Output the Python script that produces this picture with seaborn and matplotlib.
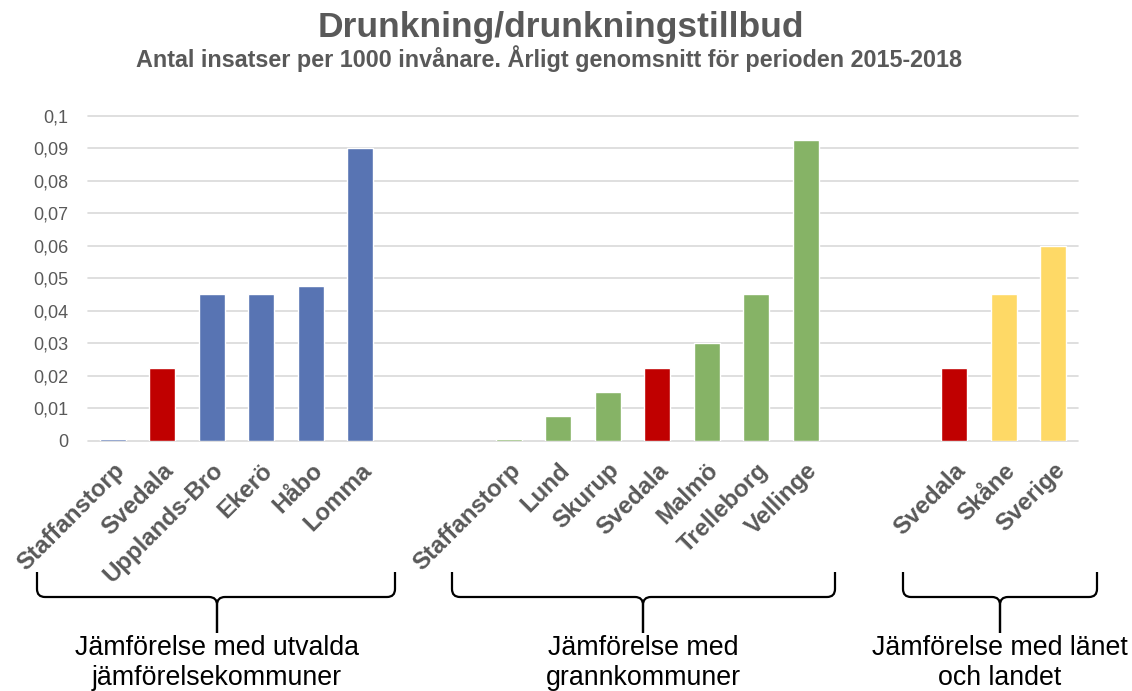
import numpy as np
import pandas as pd
import matplotlib
matplotlib.use("Agg")
import matplotlib.pyplot as plt
from matplotlib.path import Path
from matplotlib.patches import PathPatch
from matplotlib.transforms import ScaledTranslation
import seaborn as sns

# data
group1_labels = ["Staffanstorp", "Svedala", "Upplands-Bro", "Ekerö", "Håbo", "Lomma"]
group1_values = [0.0006, 0.0225, 0.045, 0.045, 0.0475, 0.09]
group2_labels = ["Staffanstorp", "Lund", "Skurup", "Svedala", "Malmö", "Trelleborg", "Vellinge"]
group2_values = [0.0006, 0.0075, 0.015, 0.0225, 0.03, 0.045, 0.0925]
group3_labels = ["Svedala", "Skåne", "Sverige"]
group3_values = [0.0225, 0.045, 0.06]
group_names = ["utvalda", "grann", "land"]
group_texts = [("Jämförelse med utvalda", "jämförelsekommuner"),
               ("Jämförelse med", "grannkommuner"),
               ("Jämförelse med länet", "och landet")]
yticks = [0, 0.01, 0.02, 0.03, 0.04, 0.05, 0.06, 0.07, 0.08, 0.09, 0.1]

palette = {"utvalda": "#5874B3", "grann": "#86B366", "land": "#FED966", "Svedala": "#C00000"}
GREY = "#595959"

sns.set_theme(style="white")
plt.rcParams["font.family"] = ["Liberation Sans", "DejaVu Sans"]

# build table, two empty slots between groups
rows = []
start = 0
for name, labels, values in zip(group_names,
                                [group1_labels, group2_labels, group3_labels],
                                [group1_values, group2_values, group3_values]):
    for i, (lab, val) in enumerate(zip(labels, values)):
        grp = "Svedala" if lab == "Svedala" else name
        rows.append({"pos": start + i, "label": lab, "value": val, "grp": grp})
    start += len(labels) + 2
df = pd.DataFrame(rows)

W, H = 1132, 691
fig = plt.figure(figsize=(W / 100, H / 100), dpi=100)
ax = fig.add_axes([88 / W, 1 - 440.7 / H, 990 / W, 325 / H])

sns.barplot(data=df, x="pos", y="value", hue="grp", palette=palette,
            native_scale=True, dodge=False, width=0.53, saturation=1,
            legend=False, ax=ax, zorder=3)

ax.set_xlim(-0.5, df["pos"].max() + 0.5)
ax.set_ylim(0, 0.1)
ax.set_yticks(yticks)
ax.set_yticklabels([("%g" % v).replace(".", ",") for v in yticks],
                   fontsize=13, color=GREY)
ax.set_xticks(df["pos"])
ax.set_xticklabels(df["label"], rotation=45, ha="right", va="top",
                   rotation_mode="anchor", fontsize=17.3, fontweight="bold", color=GREY)
off = ScaledTranslation(4 / 72, 0, fig.dpi_scale_trans)
for lab in ax.get_xticklabels():
    lab.set_transform(lab.get_transform() + off)
ax.tick_params(axis="x", length=0, pad=13)
ax.tick_params(axis="y", length=0, pad=14)
ax.set_xlabel("")
ax.set_ylabel("")
for s in ax.spines.values():
    s.set_visible(False)
ax.yaxis.grid(True, color="#D9D9D9", linewidth=1.2, zorder=0)
ax.set_axisbelow(True)
for gl in ax.get_ygridlines():
    gl.set_clip_on(False)

fig.text(561 / W, 1 - 28 / H, "Drunkning/drunkningstillbud", ha="center", va="center",
         fontsize=25.5, fontweight="bold", color=GREY)
fig.text(549 / W, 1 - 59 / H,
         "Antal insatser per 1000 invånare. Årligt genomsnitt för perioden 2015-2018",
         ha="center", va="center", fontsize=16.8, fontweight="bold", color=GREY)

# curly brackets below the groups (figure pixel coordinates)
over = fig.add_axes([0, 0, 1, 1], facecolor="none")
over.set_xlim(0, W)
over.set_ylim(H, 0)
over.axis("off")

brackets = [(37, 395, 217), (452, 835, 643), (903, 1097, 1000)]
ytop, ymid, ybot, r = 572, 597, 633, 8
for (x0, x1, xc), (line1, line2) in zip(brackets, group_texts):
    for xe, sgn in [(x0, 1), (x1, -1)]:
        verts = [(xe, ytop), (xe, ymid - r), (xe, ymid), (xe + sgn * r, ymid),
                 (xc - sgn * r, ymid), (xc, ymid), (xc, ymid + r), (xc, ybot)]
        codes = [Path.MOVETO, Path.LINETO, Path.CURVE3, Path.CURVE3,
                 Path.LINETO, Path.CURVE3, Path.CURVE3, Path.LINETO]
        over.add_patch(PathPatch(Path(verts, codes), fill=False, lw=1.6,
                                 edgecolor="black", capstyle="butt"))
    over.text(xc, 648, line1, ha="center", va="center", fontsize=19.3, color="black")
    over.text(xc, 678, line2, ha="center", va="center", fontsize=19.3, color="black")

fig.savefig("out.png", dpi=100)
